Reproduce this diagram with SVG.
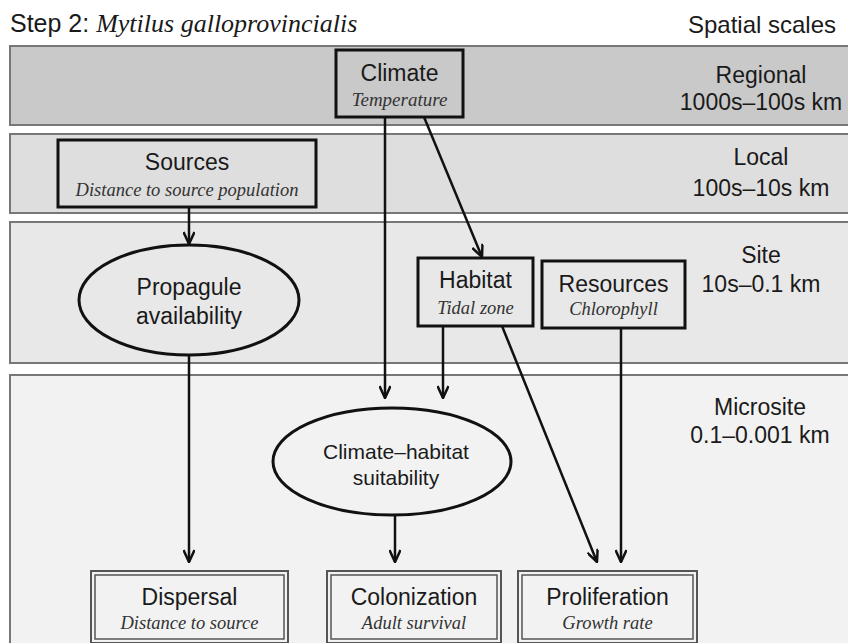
<svg xmlns="http://www.w3.org/2000/svg" width="848" height="643" viewBox="0 0 848 643">
<style>
.band{stroke:#777;stroke-width:2}
.node{fill:none;stroke:#111;stroke-width:3}
.dbl{fill:#f2f2f2;stroke:#555;stroke-width:2}
.dbl2{fill:none;stroke:#555;stroke-width:1.5}
.sans{font-family:"Liberation Sans",Arial,sans-serif;fill:#1a1a1a;text-anchor:middle}
.it{font-family:"Liberation Serif","Times New Roman",serif;font-style:italic;fill:#333;text-anchor:middle}
.scale{font-family:"Liberation Sans",Arial,sans-serif;fill:#1a1a1a;text-anchor:middle;font-size:23px}
.conn{stroke:#111;stroke-width:2.5;fill:none}
</style>
<defs>
<marker id="arr" viewBox="0 0 14 12" refX="13" refY="6" markerWidth="14" markerHeight="12" markerUnits="userSpaceOnUse" orient="auto">
<path d="M1,0.5 L13,6 L1,11.5" fill="none" stroke="#111" stroke-width="2.5"/>
</marker>
</defs>
<rect width="848" height="643" fill="#fff"/>
<g id="title">
<text x="10" y="32" font-family="Liberation Sans,Arial,sans-serif" font-size="25" fill="#1a1a1a">Step 2: <tspan font-family="Liberation Serif,Times New Roman,serif" font-style="italic" font-size="26">Mytilus galloprovincialis</tspan></text>
<text x="836" y="33" font-family="Liberation Sans,Arial,sans-serif" font-size="24" fill="#1a1a1a" text-anchor="end">Spatial scales</text>
</g>
<g id="bands">
<rect class="band" x="10" y="46" width="850" height="79" fill="#c9c9c9"/>
<rect class="band" x="10" y="134" width="850" height="79" fill="#dedede"/>
<rect class="band" x="10" y="222" width="850" height="141" fill="#e8e8e8"/>
<rect class="band" x="10" y="375" width="850" height="280" fill="#f2f2f2"/>
<text class="scale" x="761" y="83">Regional</text>
<text class="scale" x="761" y="110">1000s–100s km</text>
<text class="scale" x="761" y="165">Local</text>
<text class="scale" x="761" y="196">100s–10s km</text>
<text class="scale" x="761" y="263">Site</text>
<text class="scale" x="761" y="292">10s–0.1 km</text>
<text class="scale" x="760" y="415">Microsite</text>
<text class="scale" x="760" y="443">0.1–0.001 km</text>
</g>
<g id="connectors">
<line class="conn" x1="189" y1="207" x2="189" y2="244" marker-end="url(#arr)"/>
<line class="conn" x1="385" y1="117" x2="385" y2="398" marker-end="url(#arr)"/>
<line class="conn" x1="424" y1="117" x2="482" y2="257" marker-end="url(#arr)"/>
<line class="conn" x1="443" y1="326" x2="443" y2="398" marker-end="url(#arr)"/>
<line class="conn" x1="502" y1="326" x2="597" y2="562" marker-end="url(#arr)"/>
<line class="conn" x1="621" y1="328" x2="621" y2="562" marker-end="url(#arr)"/>
<line class="conn" x1="189" y1="356" x2="189" y2="562" marker-end="url(#arr)"/>
<line class="conn" x1="395" y1="515" x2="395" y2="562" marker-end="url(#arr)"/>
</g>
<g id="climate">
<rect class="node" x="336" y="50" width="127" height="67"/>
<text class="sans" x="399.5" y="81" font-size="23">Climate</text>
<text class="it" x="399.5" y="106" font-size="19">Temperature</text>
</g>
<g id="sources">
<rect class="node" x="58" y="140" width="258" height="67"/>
<text class="sans" x="187" y="170" font-size="23">Sources</text>
<text class="it" x="187" y="196" font-size="18.5">Distance to source population</text>
</g>
<g id="propagule">
<ellipse class="node" cx="189" cy="300" rx="110" ry="55"/>
<text class="sans" x="189" y="295" font-size="23">Propagule</text>
<text class="sans" x="189" y="324" font-size="23">availability</text>
</g>
<g id="habitat">
<rect class="node" x="418" y="258" width="115" height="68"/>
<text class="sans" x="475.5" y="288" font-size="23">Habitat</text>
<text class="it" x="475.5" y="314" font-size="18.5">Tidal zone</text>
</g>
<g id="resources">
<rect class="node" x="542" y="261" width="143" height="67"/>
<text class="sans" x="613.5" y="292" font-size="23">Resources</text>
<text class="it" x="613.5" y="315" font-size="18.5">Chlorophyll</text>
</g>
<g id="suitability">
<ellipse class="node" cx="392" cy="461.5" rx="119" ry="53.5"/>
<text class="sans" x="396" y="459" font-size="21">Climate–habitat</text>
<text class="sans" x="396" y="485" font-size="21">suitability</text>
</g>
<g id="dispersal">
<rect class="dbl" x="91" y="571" width="197" height="72"/>
<rect class="dbl2" x="95" y="575" width="189" height="64"/>
<text class="sans" x="189.5" y="605" font-size="23">Dispersal</text>
<text class="it" x="189.5" y="629" font-size="18.5">Distance to source</text>
</g>
<g id="colonization">
<rect class="dbl" x="327" y="571" width="174" height="72"/>
<rect class="dbl2" x="331" y="575" width="166" height="64"/>
<text class="sans" x="414" y="605" font-size="23">Colonization</text>
<text class="it" x="414" y="629" font-size="18.5">Adult survival</text>
</g>
<g id="proliferation">
<rect class="dbl" x="518" y="571" width="179" height="72"/>
<rect class="dbl2" x="522" y="575" width="171" height="64"/>
<text class="sans" x="607.5" y="605" font-size="23">Proliferation</text>
<text class="it" x="607.5" y="629" font-size="18.5">Growth rate</text>
</g>
</svg>
